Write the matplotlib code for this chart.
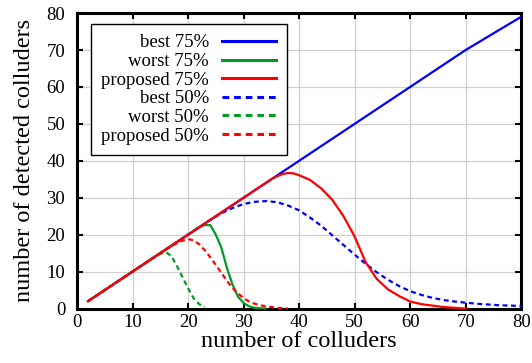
import numpy as np
import matplotlib
matplotlib.use("Agg")
import matplotlib.pyplot as plt

plt.rcParams['font.family'] = ['Liberation Serif', 'DejaVu Serif']

# data
best75_x = [2, 10, 20, 30, 40, 50, 60, 70, 80]
best75_y = [2, 10, 20, 30, 40, 50, 60, 70, 79]

worst75_x = [2, 10, 20, 22, 23, 24, 25, 26, 27, 28, 29, 30, 31, 32, 34]
worst75_y = [2, 10, 20, 22, 22.6, 22.6, 20, 16.5, 11, 6.5, 3.2, 1.5, 0.6, 0.2, 0]

prop75_x = [2, 10, 20, 30, 35, 36, 37, 38, 39, 40, 42, 44, 46, 48, 50, 52, 54, 56, 58, 60, 62, 64, 66, 68, 70]
prop75_y = [2, 10, 20, 30, 35, 35.8, 36.4, 36.7, 36.6, 36.1, 34.8, 32.5, 29.4, 25, 19.5, 12.5, 8, 5.2, 3.4, 1.9, 1.2, 0.8, 0.4, 0.2, 0]

best50_x = [2, 10, 20, 24, 26, 28, 30, 32, 34, 36, 38, 40, 42, 44, 46, 48, 50, 52, 54, 56, 58, 60, 62, 64, 66, 68, 70, 72, 74, 76, 78, 80]
best50_y = [2, 10, 20, 24, 25.8, 27.2, 28.3, 28.9, 29.1, 28.8, 27.9, 26.6, 24.6, 22.4, 19.8, 17.2, 14.6, 12.1, 9.8, 7.8, 6.1, 4.7, 3.7, 2.9, 2.3, 1.9, 1.6, 1.3, 1.1, 0.9, 0.8, 0.7]

worst50_x = [2, 10, 14, 15, 16, 17, 18, 19, 20, 21, 22, 23]
worst50_y = [2, 10, 14, 14.8, 15.3, 14.2, 11.5, 8.5, 5.5, 2.8, 1.2, 0.4]

prop50_x = [2, 10, 16, 17, 18, 19, 20, 21, 22, 23, 24, 25, 26, 27, 28, 29, 30, 31, 32, 33, 34, 36, 38]
prop50_y = [2, 10, 16, 16.9, 17.7, 18.4, 18.8, 18.5, 17.4, 15.8, 13.9, 11.8, 9.7, 7.5, 5.6, 4.1, 2.8, 1.9, 1.3, 0.9, 0.6, 0.2, 0]

labels = ['best 75%', 'worst 75%', 'proposed 75%', 'best 50%', 'worst 50%', 'proposed 50%']
xticks = [0, 10, 20, 30, 40, 50, 60, 70, 80]
yticks = [0, 10, 20, 30, 40, 50, 60, 70, 80]

blue = '#0000ff'
green = '#009a26'
red = '#ff0000'

fig = plt.figure(figsize=(5.32, 3.63), dpi=100)
ax = fig.add_axes([0.1447, 0.150, 0.835, 0.814])

lw = 1.6
dash = (0, (2.2, 1.6))
ax.plot(best75_x, best75_y, color=blue, lw=lw, label=labels[0], zorder=3)
ax.plot(worst75_x, worst75_y, color=green, lw=lw, label=labels[1], zorder=3)
ax.plot(prop75_x, prop75_y, color=red, lw=lw, label=labels[2], zorder=4)
ax.plot(best50_x, best50_y, color=blue, lw=lw, ls=dash, label=labels[3], zorder=3)
ax.plot(worst50_x, worst50_y, color=green, lw=lw, ls=dash, label=labels[4], zorder=3)
ax.plot(prop50_x, prop50_y, color=red, lw=lw, ls=dash, label=labels[5], zorder=3)

ax.set_xlim(0, 80)
ax.set_ylim(0, 80)
ax.set_xticks(xticks)
ax.set_yticks(yticks)
ax.grid(True, color='#d0d0d0', lw=0.9)
ax.set_axisbelow(True)
for s in ax.spines.values():
    s.set_linewidth(2.2)
ax.tick_params(direction='in', length=4, width=1.5, top=True, right=True,
               labelsize=13.5)
ax.tick_params(axis='x', pad=4)
ax.tick_params(axis='y', pad=8.5)
ax.set_xlabel('number of colluders', fontsize=17.5, labelpad=0)
ax.set_ylabel('number of detected colluders', fontsize=17.5, labelpad=8)

leg = ax.legend(loc='upper left', bbox_to_anchor=(0.031, 0.963), markerfirst=False,
                prop={'size': 13.5}, frameon=True, fancybox=False, framealpha=1,
                handlelength=2.9, labelspacing=0.08, borderpad=0.55,
                handletextpad=0.7, borderaxespad=0)
leg.get_frame().set_edgecolor('black')
leg.get_frame().set_linewidth(1.0)
for t in leg.get_texts():
    t.set_ha('right')
for h in leg.get_lines():
    h.set_linewidth(2.2)

fig.savefig('out.png', dpi=100)
